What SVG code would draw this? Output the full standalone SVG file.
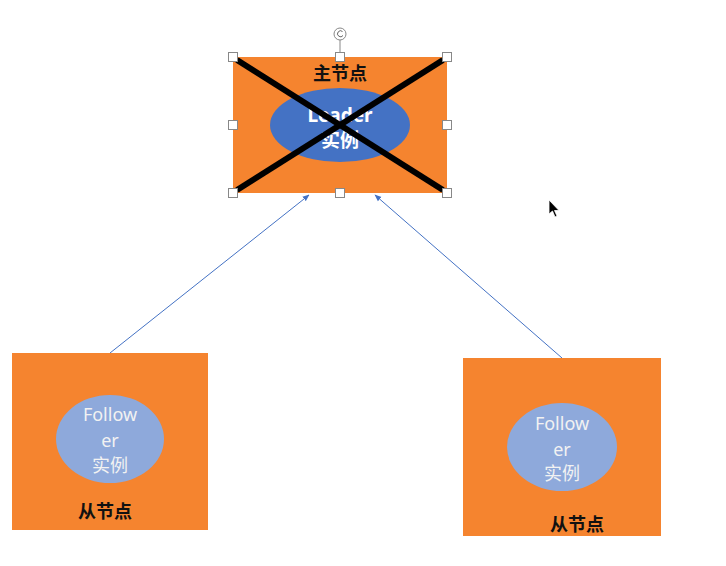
<svg xmlns="http://www.w3.org/2000/svg" width="726" height="566" viewBox="0 0 726 566">
<defs>
<style>
.box{fill:#F5842F;}
.lead{fill:#4472C4;}
.fol{fill:#8EA9DB;}
.title{font-family:"Noto Sans CJK SC","Liberation Sans",sans-serif;font-weight:bold;font-size:18px;fill:#111;text-anchor:middle;}
.inner{font-family:"Noto Sans","Noto Sans CJK SC",sans-serif;font-size:18px;fill:#F2F2F2;text-anchor:middle;}
.lbig{font-family:"Noto Sans","Noto Sans CJK SC",sans-serif;font-size:19px;fill:#FFFFFF;text-anchor:middle;font-weight:bold;}
.conn{stroke:#4472C4;stroke-width:1;fill:none;}
.handle{fill:#FFFFFF;stroke:#888;stroke-width:1;}
</style>
<marker id="arr" viewBox="0 0 10 10" refX="9" refY="5" markerWidth="7" markerHeight="7" orient="auto">
<path d="M0,1 L10,5 L0,9 Z" fill="#4472C4"/>
</marker>
</defs>
<rect width="726" height="566" fill="#FFFFFF"/>
<g id="connectors">
<line class="conn" x1="110" y1="353" x2="309" y2="195" marker-end="url(#arr)"/>
<line class="conn" x1="562" y1="358" x2="375" y2="195" marker-end="url(#arr)"/>
</g>
<g id="master">
<rect class="box" x="233" y="57" width="214" height="136"/>
<text class="title" x="340" y="80">主节点</text>
<ellipse class="lead" cx="340" cy="125" rx="70" ry="37"/>
<text class="lbig" x="340" y="122">Leader</text>
<text class="lbig" x="340" y="147">实例</text>
<line x1="237" y1="60" x2="443" y2="190" stroke="#000" stroke-width="6"/>
<line x1="443" y1="60" x2="237" y2="190" stroke="#000" stroke-width="6"/>
</g>
<g id="selection">
<line x1="340" y1="40" x2="340" y2="57" stroke="#888" stroke-width="1"/>
<circle cx="340" cy="34" r="6" fill="#FFFFFF" stroke="#888" stroke-width="1"/>
<path d="M342.5,31.5 A3,3 0 1 0 343,35.5" fill="none" stroke="#666" stroke-width="1"/>
<rect class="handle" x="228.5" y="52.5" width="9" height="9"/>
<rect class="handle" x="335.5" y="52.5" width="9" height="9"/>
<rect class="handle" x="442.5" y="52.5" width="9" height="9"/>
<rect class="handle" x="228.5" y="120.5" width="9" height="9"/>
<rect class="handle" x="442.5" y="120.5" width="9" height="9"/>
<rect class="handle" x="228.5" y="188.5" width="9" height="9"/>
<rect class="handle" x="335.5" y="188.5" width="9" height="9"/>
<rect class="handle" x="442.5" y="188.5" width="9" height="9"/>
</g>
<g id="follower-left">
<rect class="box" x="12" y="353" width="196" height="177"/>
<ellipse class="fol" cx="110" cy="439" rx="54" ry="44"/>
<text class="inner" x="110" y="421">Follow</text>
<text class="inner" x="110" y="447">er</text>
<text class="inner" x="110" y="472">实例</text>
<text class="title" x="105" y="518">从节点</text>
</g>
<g id="follower-right">
<rect class="box" x="463" y="358" width="198" height="178"/>
<ellipse class="fol" cx="562" cy="447" rx="55" ry="44"/>
<text class="inner" x="562" y="430">Follow</text>
<text class="inner" x="562" y="456">er</text>
<text class="inner" x="562" y="480">实例</text>
<text class="title" x="577" y="531">从节点</text>
</g>
<g id="cursor">
<path d="M549,200 L549,214 L552.5,211 L555,217 L557,216 L554.5,210.5 L559,210.5 Z" fill="#000" stroke="#fff" stroke-width="0.8"/>
</g>
</svg>
